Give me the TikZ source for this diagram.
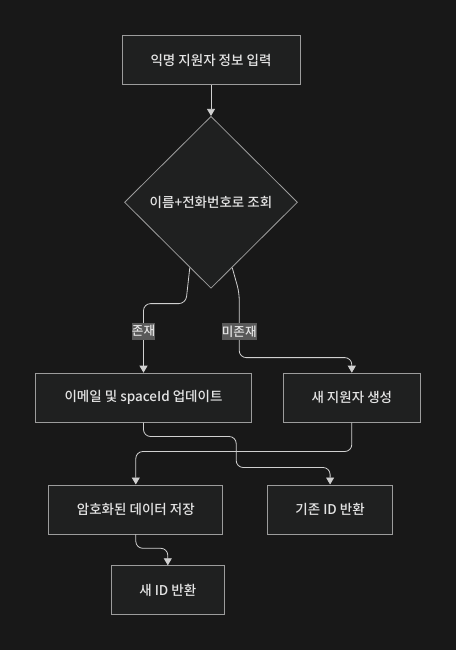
\documentclass[tikz,border=0pt]{standalone}
\usepackage{fontspec}
\setmainfont{Noto Sans CJK KR Medium}
\usepackage{tikz}
\usetikzlibrary{arrows.meta}
\usetikzlibrary{shapes.geometric,positioning}
\tikzset{font={\fontsize{13.5pt}{16}\selectfont}}
\definecolor{bgcol}{HTML}{181818}
\definecolor{boxfill}{HTML}{1F2020}
\definecolor{boxline}{HTML}{9C9C9C}
\definecolor{linecol}{HTML}{D0D0D0}
\definecolor{txtcol}{HTML}{E4E4E4}
\definecolor{lblfill}{HTML}{595959}
\tikzset{
  process/.style={draw=boxline, fill=boxfill, text=txtcol, line width=0.8pt, minimum height=49pt, inner sep=2pt},
  decision/.style={diamond, draw=boxline, fill=boxfill, text=txtcol, line width=0.8pt, minimum width=173pt, minimum height=172pt, inner sep=2pt},
  flow/.style={draw=linecol, line width=0.8pt, rounded corners=7pt, -{Triangle[width=8pt,length=7pt]}},
  elabel/.style={sharp corners, fill=lblfill, text=txtcol, font={\fontsize{12.6pt}{15}\selectfont}, inner xsep=0.3pt, inner ysep=2.5pt}
}

\begin{document}
\begin{tikzpicture}
  \fill[bgcol] (0pt,0pt) rectangle (456pt,-650pt);
  \useasboundingbox (0pt,0pt) rectangle (456pt,-650pt);

  % Define nodes
  \node[process, minimum width=178pt] at (211pt,-60pt) (input) {익명 지원자 정보 입력};
  \node[decision, below=31pt of input] (query) {이름+전화번호로 조회};
  \node[process, minimum width=216pt, below=84pt of query.south, xshift=-67.5pt] (update) {이메일 및 spaceId 업데이트};
  \node[process, minimum width=137pt, right=31pt of update] (create) {새 지원자 생성};
  \node[process, minimum width=174pt, below=62pt of update, xshift=-7.7pt] (save) {암호화된 데이터 저장};
  \node[process, minimum width=125pt, right=44pt of save] (existing) {기존 ID 반환};
  \node[process, minimum width=113pt, below=31pt of save, xshift=32pt] (newid) {새 ID 반환};

  % Connect the nodes
  \draw[flow] (input) -- (query);
  \draw[flow] (query.252) -- ++(-4pt,-36pt) -| node[elabel, pos=0.7] {존재} (update.north);
  \draw[flow] (query.288) -- ++(7pt,-25pt) -- node[elabel, pos=0.6] {미존재} ++(0pt,-65pt) -| (create.north);
  \draw[flow] (update.south) -- ++(0pt,-14pt) -- ++(92.7pt,0pt) -- ++(0pt,-31pt) -| (existing.north);
  \draw[flow] (create.south) -- ++(0pt,-29pt) -| (save.north);
  \draw[flow] (save.south) -- ++(0pt,-14pt) -| (newid.north);
\end{tikzpicture}
\end{document}
